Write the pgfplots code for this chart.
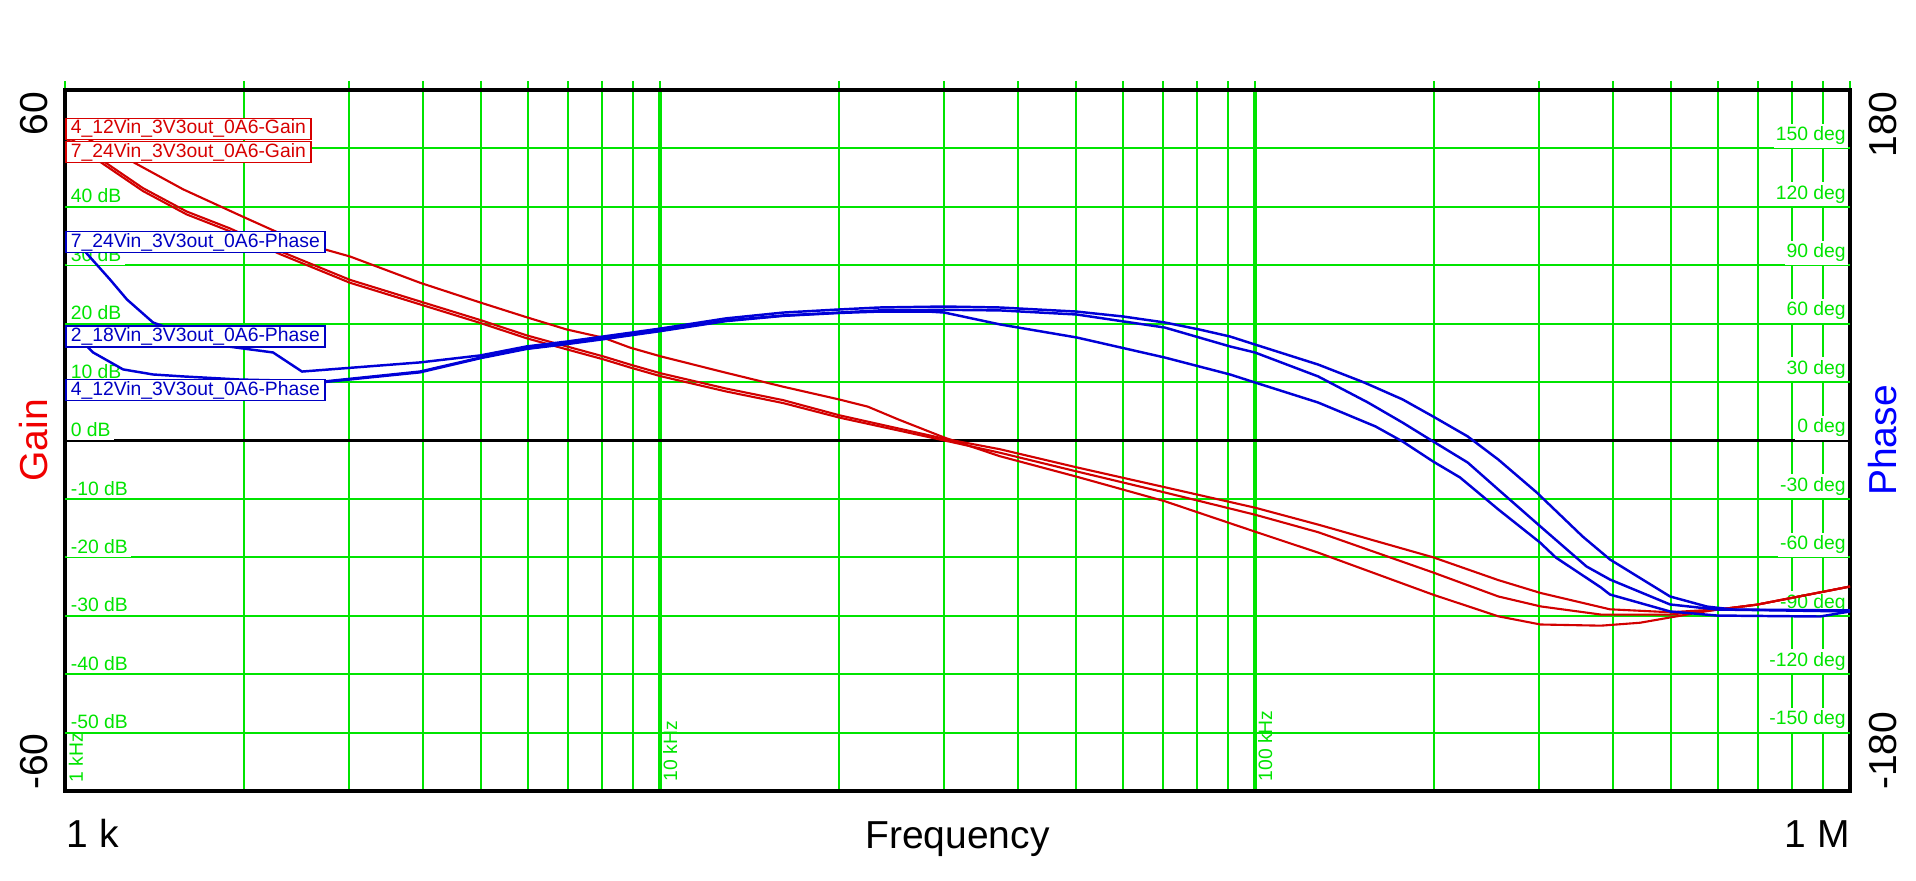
\documentclass[border=0pt]{standalone}
\usepackage{fontspec}
\setmainfont{Liberation Sans}
\usepackage{pgfplots}
\pgfplotsset{compat=1.18}
\definecolor{grn}{RGB}{0,228,0}
\definecolor{gainred}{RGB}{210,0,0}
\definecolor{phblue}{RGB}{0,0,215}
\definecolor{lblred}{RGB}{240,0,0}
\definecolor{lblblue}{RGB}{0,0,255}
\definecolor{boxred}{RGB}{215,0,0}
\definecolor{boxblue}{RGB}{0,0,195}
\newcommand\bigf{\fontsize{11.1}{13}\selectfont}
\newcommand\smf{\fontsize{5.5}{6.6}\selectfont}
\tikzset{
  dbl/.style={anchor=south west, xshift=0.16mm, fill=white, inner xsep=0.35mm, inner ysep=0.3mm, text=grn, font=\smf},
  dgl/.style={anchor=south east, xshift=-0.16mm, fill=white, inner xsep=0.2mm, inner ysep=0.3mm, text=grn, font=\smf},
  lg/.style={anchor=west, fill=white, draw, line width=0.45pt, font=\smf, inner xsep=0.5mm, inner ysep=0pt, minimum height=2.1mm},
  big/.style={font=\bigf, inner sep=0pt, outer sep=0pt}
}

\begin{document}
\begin{tikzpicture}
\useasboundingbox (-0.65,-0.90) rectangle (18.51,7.91);

% gain axis: grid, labels, gain curves
\begin{axis}[at={(0,0)}, anchor=south west,
    width=17.85cm, height=7.01cm, scale only axis,
    xmode=log, xmin=1000, xmax=1000000,
    ymin=-60, ymax=60,
    axis line style={line width=0.9pt},
    xtick={1000,10000,100000,1000000},
    minor xtick={2000,3000,4000,5000,6000,7000,8000,9000,
      20000,30000,40000,50000,60000,70000,80000,90000,
      200000,300000,400000,500000,600000,700000,800000,900000},
    xticklabels={},
    xmajorgrids, xminorgrids,
    major grid style={grn, line width=1.1pt},
    minor grid style={grn, line width=0.55pt},
    ytick=\empty,
    extra y ticks={-50,-40,-30,-20,-10,10,20,30,40,50},
    extra y tick labels={},
    extra y tick style={grid=major, major grid style={grn, line width=0.55pt}, major tick length=0pt},
    xtick pos=right, tick align=outside,
    tick style={grn, line width=0.55pt},
    major tick length=0.9mm, minor tick length=0.9mm,
    no markers]

\draw[black, line width=0.6pt] (axis cs:1000,0) -- (axis cs:1000000,0);

\node[dbl] at (axis cs:1000,40) {40 dB};
\node[dbl] at (axis cs:1000,30) {30 dB};
\node[dbl] at (axis cs:1000,20) {20 dB};
\node[dbl] at (axis cs:1000,10) {10 dB};
\node[dbl] at (axis cs:1000,0) {0 dB};
\node[dbl] at (axis cs:1000,-10) {-10 dB};
\node[dbl] at (axis cs:1000,-20) {-20 dB};
\node[dbl] at (axis cs:1000,-30) {-30 dB};
\node[dbl] at (axis cs:1000,-40) {-40 dB};
\node[dbl] at (axis cs:1000,-50) {-50 dB};

\node[dgl] at (axis cs:1000000,50) {150 deg};
\node[dgl] at (axis cs:1000000,40) {120 deg};
\node[dgl] at (axis cs:1000000,30) {90 deg};
\node[dgl] at (axis cs:1000000,20) {60 deg};
\node[dgl] at (axis cs:1000000,10) {30 deg};
\node[dgl] at (axis cs:1000000,0) {0 deg};
\node[dgl] at (axis cs:1000000,-10) {-30 deg};
\node[dgl] at (axis cs:1000000,-20) {-60 deg};
\node[dgl] at (axis cs:1000000,-30) {-90 deg};
\node[dgl] at (axis cs:1000000,-40) {-120 deg};
\node[dgl] at (axis cs:1000000,-50) {-150 deg};

% 4_12Vin gain
\addplot[gainred, line width=0.6pt, line join=round] coordinates {
(1000,53.6) (1294,47.8) (1579,43.0) (1981,38.4) (2483,33.9) (3012,31.5)
(3951,27.0) (4994,23.6) (5966,21.1) (6970,19.0) (8026,17.6) (8904,15.9)
(10027,14.4) (12903,11.6) (16113,9.2) (20047,7.0) (22336,5.8) (25152,3.6)
(30055,0.5) (37276,-2.7) (50159,-6.2) (70538,-10.4) (99961,-15.6)
(127670,-19.2) (199270,-26.4) (256400,-30.1) (301900,-31.5) (381500,-31.7)
(443700,-31.2) (498300,-30.3) (559600,-29.4) (604600,-28.9) (697900,-28.1)
(1000000,-25.0)};
% 7_24Vin gain
\addplot[gainred, line width=0.6pt, line join=round] coordinates {
(1000,52.3) (1153,48.0) (1352,43.2) (1601,39.2) (1894,36.3) (2298,32.4)
(3012,27.5) (3951,23.8) (4994,20.6) (5966,18.0) (6970,16.1) (8026,14.4)
(8904,13.0) (10027,11.5) (12903,8.9) (16113,6.9) (20047,4.3) (30055,0.3)
(37276,-1.5) (50159,-4.6) (70538,-8.0) (99961,-11.5) (127670,-14.4)
(199270,-20.0) (256400,-23.9) (301900,-26.1) (395000,-28.9) (498300,-29.4)
(604600,-28.9) (697900,-28.1) (1000000,-25.0)};
% 2_18Vin gain
\addplot[gainred, line width=0.6pt, line join=round] coordinates {
(1000,51.8) (1153,47.5) (1352,42.7) (1601,38.7) (1894,35.8) (2298,31.9)
(3012,27.0) (3951,23.3) (4994,20.1) (5966,17.5) (6970,15.6) (8026,13.9)
(8904,12.5) (10027,11.0) (12903,8.4) (16113,6.4) (20047,3.9) (30055,0.0)
(37276,-2.1) (50159,-5.3) (70538,-8.9) (99961,-12.7) (127670,-15.7)
(199270,-22.6) (256400,-26.7) (301900,-28.4) (381500,-29.8) (498300,-29.8)
(604600,-28.9) (697900,-28.1) (1000000,-25.0)};
\end{axis}

% phase axis
\begin{axis}[at={(0,0)}, anchor=south west,
    width=17.85cm, height=7.01cm, scale only axis,
    xmode=log, xmin=1000, xmax=1000000,
    ymin=-180, ymax=180, hide axis, no markers]
% 7_24Vin phase
\addplot[phblue, line width=0.7pt, line join=round] coordinates {
(1000,98.1) (1080,97.1) (1190,82.7) (1271,72.4) (1406,60.6) (1773,49.3)
(2237,45.2) (2502,35.4) (3951,40.1) (4994,43.7) (5966,48.3) (6970,50.8)
(8026,53.4) (10027,57.5) (12903,62.7) (16113,65.7) (20047,67.3) (23361,68.3)
(30055,68.8) (37276,68.3) (50159,66.2) (59951,63.7) (70538,60.6) (80610,57.0)
(90785,53.4) (99961,49.3) (127670,39.0) (152530,29.8) (177000,21.1)
(199270,12.3) (227700,2.1) (256400,-9.8) (297500,-26.7) (355300,-49.3)
(395000,-61.1) (498300,-80.1) (575000,-85.3) (635800,-86.8) (1000000,-87.3)};
% 2_18Vin phase
\addplot[phblue, line width=0.7pt, line join=round] coordinates {
(1000,49.3) (1080,49.3) (1115,45.2) (1252,36.5) (1406,33.9) (1579,32.9)
(1968,31.3) (2725,30.3) (3951,35.4) (4994,42.6) (5966,47.3) (6970,49.8)
(8026,52.4) (10027,56.5) (12903,61.6) (16113,64.2) (20047,65.7) (23361,66.8)
(30055,67.1) (37276,66.8) (50159,64.7) (70538,58.0) (90785,48.3) (99961,45.2)
(127670,32.9) (154850,19.5) (177000,9.2) (199270,-0.5) (227700,-11.3)
(256400,-25.2) (301900,-44.2) (360700,-64.7) (395000,-71.4) (498300,-84.2)
(597600,-86.8) (1000000,-87.8)};
% 4_12Vin phase
\addplot[phblue, line width=0.7pt, line join=round] coordinates {
(1000,26.2) (1389,27.2) (2046,29.3) (2725,30.0) (3951,35.0) (4994,42.3)
(5966,47.0) (6970,49.5) (8026,52.0) (10027,56.2) (12903,61.3) (16113,64.0)
(20047,65.5) (23361,66.2) (28318,66.2) (30055,65.7) (37276,59.6) (50159,52.9)
(70538,42.6) (90785,33.9) (99961,29.8) (127670,19.5) (159430,7.2)
(177000,-0.5) (199270,-10.8) (221100,-19.0) (256400,-35.4) (301300,-52.4)
(320300,-60.1) (381500,-75.5) (395000,-79.1) (498300,-87.8) (597600,-89.9)
(890400,-90.4) (1000000,-87.8)};

\node[lg, draw=boxred, text=boxred] at (rel axis cs:0,0.9445) {4\_12Vin\_3V3out\_0A6-Gain};
\node[lg, draw=boxred, text=boxred] at (rel axis cs:0,0.9115) {7\_24Vin\_3V3out\_0A6-Gain};
\node[lg, draw=boxblue, text=boxblue] at (rel axis cs:0,0.7832) {7\_24Vin\_3V3out\_0A6-Phase};
\node[lg, draw=boxblue, text=boxblue] at (rel axis cs:0,0.6484) {2\_18Vin\_3V3out\_0A6-Phase};
\node[lg, draw=boxblue, text=boxblue] at (rel axis cs:0,0.5720) {4\_12Vin\_3V3out\_0A6-Phase};
\end{axis}

% frequency marks along the bottom
\node[rotate=90, anchor=base west, font=\smf, text=grn, inner sep=0pt] at (0.18,0.08) {1 kHz};
\node[rotate=90, anchor=base west, font=\smf, text=grn, inner sep=0pt] at (6.12,0.09) {10 kHz};
\node[rotate=90, anchor=base west, font=\smf, text=grn, inner sep=0pt] at (12.07,0.09) {100 kHz};

% outer labels
\node[big, rotate=90, anchor=base east] at (-0.17,6.99) {60};
\node[big, rotate=90, anchor=base west] at (-0.17,0.01) {-60};
\node[big, rotate=90, anchor=base, text=lblred] at (-0.17,3.505) {Gain};
\node[big, rotate=90, anchor=base east] at (18.31,6.99) {180};
\node[big, rotate=90, anchor=base west] at (18.31,0.01) {-180};
\node[big, rotate=90, anchor=base, text=lblblue] at (18.31,3.505) {Phase};
\node[big, anchor=base west] at (0.02,-0.57) {1 k};
\node[big, anchor=base] at (8.925,-0.58) {Frequency};
\node[big, anchor=base east] at (17.85,-0.57) {1 M};
\end{tikzpicture}
\end{document}
